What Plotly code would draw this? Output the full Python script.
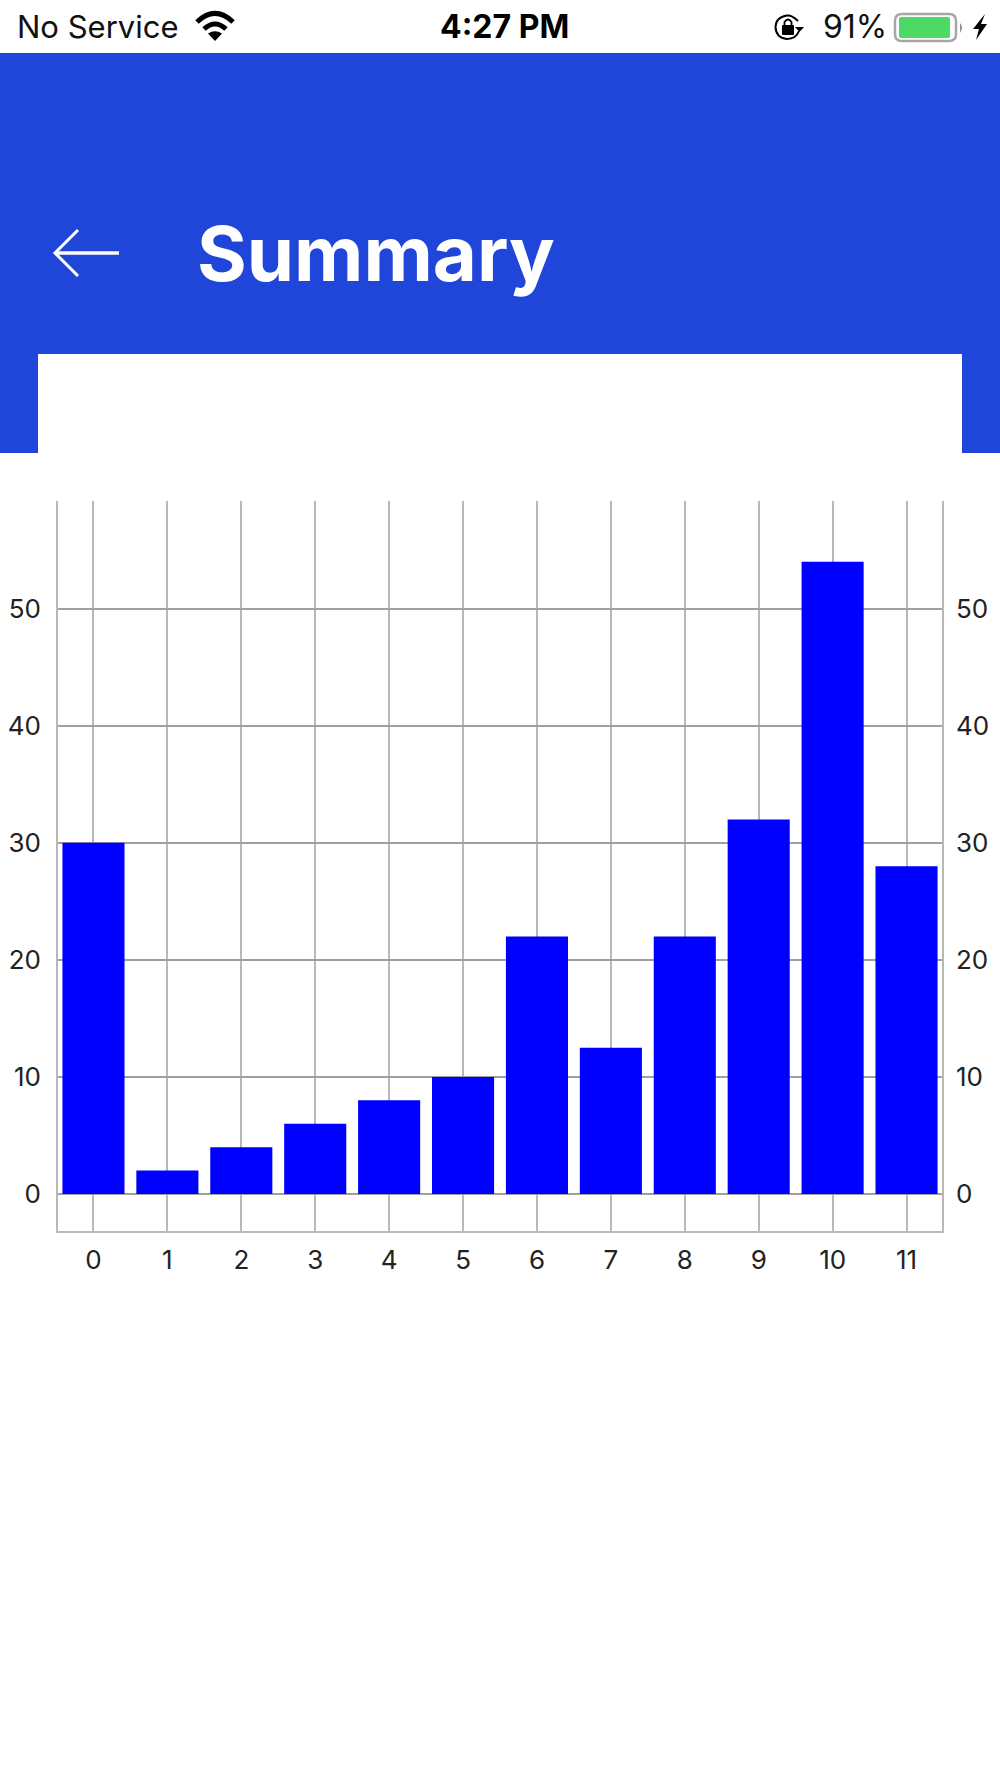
import plotly.graph_objects as go

categories = [0, 1, 2, 3, 4, 5, 6, 7, 8, 9, 10, 11]
values = [30, 2, 4, 6, 8, 10, 22, 12.5, 22, 32, 54, 28]
y_ticks = [0, 10, 20, 30, 40, 50]

W, H = 1000, 1778
BLUE = "#1F45D9"
GRID = "#b8b8b8"
GRID_H = "#a0a0a0"
LABEL = "#222222"
FONT = "Inter"


def X(x):
    return x / W


def Y(y):
    return 1 - y / H


def P(*cmds):
    out = []
    for c in cmds:
        if isinstance(c, str):
            out.append(c)
        else:
            out.append(f"{X(c[0]):.5f},{Y(c[1]):.5f}")
    return " ".join(out)


def rect(x0, y0, x1, y1, fill):
    return dict(type="rect", xref="paper", yref="paper", x0=X(x0), x1=X(x1), y0=Y(y1), y1=Y(y0),
                fillcolor=fill, line_width=0, layer="below")


def stroke(path, color, width):
    return dict(type="path", xref="paper", yref="paper", path=path, line=dict(color=color, width=width))


def fill(path, color):
    return dict(type="path", xref="paper", yref="paper", path=path, fillcolor=color, line_width=0)


def rrect(x0, y0, x1, y1, r):
    return P("M", (x0 + r, y0), "L", (x1 - r, y0), "Q", (x1, y0), (x1, y0 + r), "L", (x1, y1 - r),
             "Q", (x1, y1), (x1 - r, y1), "L", (x0 + r, y1), "Q", (x0, y1), (x0, y1 - r), "L", (x0, y0 + r),
             "Q", (x0, y0), (x0 + r, y0), "Z")


shapes = [
    rect(0, 53, 1000, 453, BLUE),
    rect(38, 354, 962, 453, "#ffffff"),
    # back arrow
    stroke(P("M", (55, 253), "L", (119, 253)), "#ffffff", 3.5),
    stroke(P("M", (78, 230), "L", (55, 253), "L", (78, 276)), "#ffffff", 3),
    # wifi
    stroke(P("M", (197, 22), "Q", (215, 5), (233, 22)), "#000000", 5),
    stroke(P("M", (204, 29), "Q", (215, 19), (226, 29)), "#000000", 5),
    fill(P("M", (208, 33.5), "Q", (215, 29), (222, 33.5), "L", (215, 41), "Z"), "#000000"),
    # rotation lock
    stroke(P("M", (798, 21), "Q", (792, 15), (787, 15.5), "Q", (776, 17), (775.5, 27), "Q", (776, 38), (787, 39),
             "Q", (796, 39), (799, 31)), "#000000", 2),
    fill(rrect(782, 25, 794, 35, 1), "#000000"),
    stroke(P("M", (784.5, 25), "L", (784.5, 22), "Q", (788, 17), (791.5, 22), "L", (791.5, 25)), "#000000", 1.8),
    fill(P("M", (795, 27), "L", (804, 27), "L", (799.5, 32), "Z"), "#000000"),
    # battery
    stroke(rrect(895, 14, 956, 41, 7), "#a6a6a6", 2.5),
    fill(rrect(899, 17, 950, 38, 2), "#4cd964"),
    fill(P("M", (960, 23), "Q", (964, 27), (960, 33), "Z"), "#8e8e8e"),
    # charging bolt
    fill(P("M", (985, 14), "L", (973, 29), "L", (979, 29), "L", (976, 40), "L", (987, 24), "L", (981, 24), "Z"),
         "#000000"),
]

annotations = [
    dict(text="<b>Summary</b>", x=X(195), y=Y(253), xanchor="left", yanchor="middle",
         font=dict(family=FONT, size=76, color="#ffffff")),
    dict(text="No Service", x=X(15), y=Y(27), xanchor="left", yanchor="middle",
         font=dict(family=FONT, size=31, color="#111111")),
    dict(text="<b>4:27 PM</b>", x=X(504), y=Y(27), xanchor="center", yanchor="middle",
         font=dict(family=FONT, size=32, color="#000000")),
    dict(text="91%", x=X(821), y=Y(27), xanchor="left", yanchor="middle",
         font=dict(family=FONT, size=32, color="#111111")),
]
for a in annotations:
    a.update(xref="paper", yref="paper", showarrow=False)

x_range = [-0.48, 11.48]
y_range = [-3.16, 59.2]
tick_font = dict(family=FONT, size=26, color=LABEL)

fig = go.Figure()
fig.add_trace(go.Bar(x=categories, y=values, marker=dict(color="#0000ff", line_width=0), width=0.84,
                     hoverinfo="skip"))
# Second, invisible copy gives the right-hand axis its labels
fig.add_trace(go.Bar(x=categories, y=values, yaxis="y2", marker=dict(color="rgba(0,0,0,0)", line_width=0),
                     width=0.84, hoverinfo="skip"))

fig.update_layout(
    width=W, height=H, margin=dict(l=0, r=0, t=0, b=0),
    paper_bgcolor="#ffffff", plot_bgcolor="#ffffff", showlegend=False, barmode="overlay",
    shapes=shapes, annotations=annotations,
    xaxis=dict(domain=[X(58), X(942)], range=x_range, tickmode="array", tickvals=categories,
               ticktext=[str(c) for c in categories], showgrid=True, gridcolor=GRID, gridwidth=1.6,
               showline=True, linecolor=GRID, linewidth=1.6, ticks="", zeroline=False,
               tickfont=tick_font, ticklabelstandoff=5),
    yaxis=dict(domain=[Y(1231), Y(501)], range=y_range, tickmode="array", tickvals=y_ticks,
               showgrid=True, gridcolor=GRID_H, gridwidth=1.6, showline=True, linecolor=GRID, linewidth=1.6,
               ticks="", zeroline=True, zerolinecolor=GRID_H, zerolinewidth=1.6,
               tickfont=tick_font, ticklabelstandoff=10),
    yaxis2=dict(domain=[Y(1231), Y(501)], range=y_range, overlaying="y", side="right", anchor="x",
                tickmode="array", tickvals=y_ticks, showgrid=False, showline=True, linecolor=GRID, linewidth=1.6,
                ticks="", zeroline=False, tickfont=tick_font, ticklabelstandoff=7),
)

fig.write_html("out.html", config=dict(displayModeBar=False),
               post_script="document.body.style.margin='0';document.documentElement.style.overflow='hidden';")
